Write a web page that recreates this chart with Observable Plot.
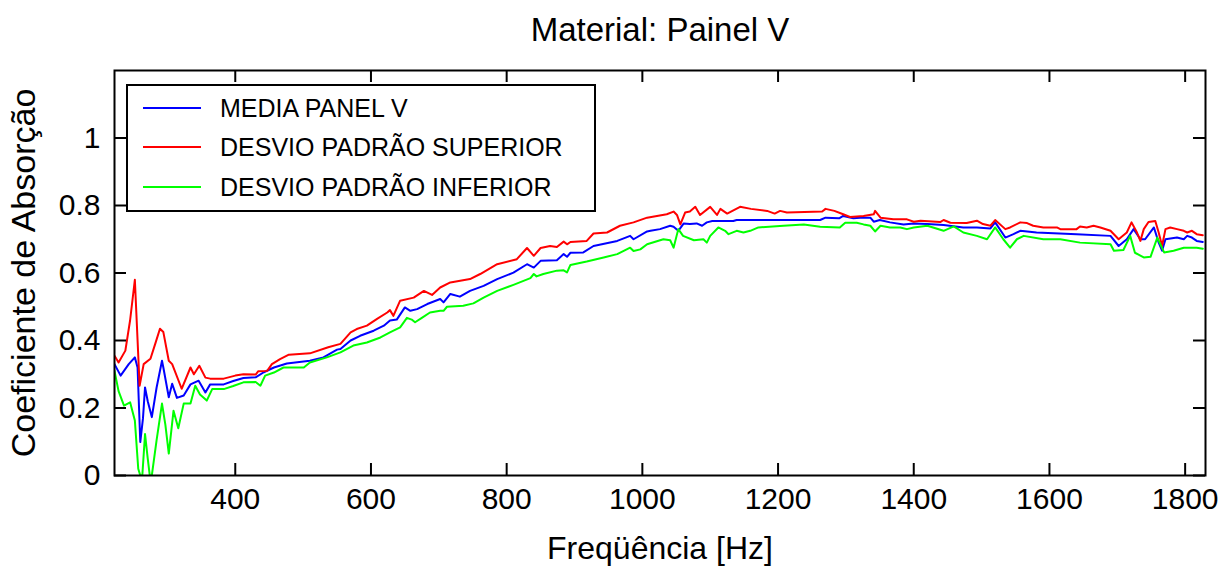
<!DOCTYPE html>
<html>
<head>
<meta charset="utf-8">
<script src="https://cdn.jsdelivr.net/npm/d3@7"></script>
<script src="https://cdn.jsdelivr.net/npm/@observablehq/plot@0.6"></script>
<style>
  html, body { margin: 0; padding: 0; background: #fff; }
  #chart { width: 1223px; height: 572px; }
</style>
</head>
<body>
<div id="chart"></div>
<script>
// ---- Data ----
const title = "Material: Painel V";
const xLabel = "Freqüência [Hz]";
const yLabel = "Coeficiente de Absorção";
const seriesNames = ["MEDIA PANEL V", "DESVIO PADRÃO SUPERIOR", "DESVIO PADRÃO INFERIOR"];
const seriesColors = ["#0000ff", "#ff0000", "#00ff00"];
const xTicks = [400, 600, 800, 1000, 1200, 1400, 1600, 1800];
const yTicks = [0, 0.2, 0.4, 0.6, 0.8, 1];

const freqMedia = [222,231,243,252,256,260,264,267,271,277,284,292,294,302,307,314,324,334,346,356,363,383,397,412,430,442,457,476,510,530,550,555,570,584,604,619,628,638,650,658,668,683,702,707,717,731,746,766,786,810,830,840,850,874,884,889,894,913,928,963,982,987,1007,1012,1026,1041,1046,1053,1061,1070,1080,1088,1095,1103,1134,1139,1262,1270,1290,1296,1311,1321,1336,1341,1350,1365,1385,1400,1420,1444,1473,1493,1513,1520,1535,1547,1557,1581,1640,1690,1702,1714,1724,1734,1741,1754,1761,1766,1771,1788,1798,1803,1810,1817,1826];
const valMedia = [0.33,0.296,0.33,0.35,0.32,0.099,0.17,0.261,0.22,0.173,0.26,0.34,0.32,0.232,0.272,0.23,0.237,0.27,0.281,0.246,0.27,0.27,0.28,0.289,0.291,0.306,0.32,0.332,0.34,0.35,0.373,0.375,0.40,0.414,0.429,0.444,0.459,0.462,0.498,0.488,0.493,0.508,0.523,0.513,0.538,0.53,0.547,0.562,0.582,0.601,0.626,0.616,0.636,0.638,0.656,0.648,0.66,0.661,0.68,0.695,0.71,0.70,0.723,0.725,0.73,0.74,0.737,0.725,0.747,0.745,0.747,0.74,0.75,0.754,0.754,0.757,0.757,0.764,0.762,0.769,0.762,0.764,0.764,0.752,0.757,0.75,0.744,0.747,0.745,0.742,0.735,0.735,0.732,0.75,0.705,0.715,0.725,0.72,0.715,0.71,0.68,0.70,0.73,0.70,0.70,0.735,0.69,0.666,0.70,0.705,0.70,0.71,0.705,0.695,0.692];

const freqSup = [222,228,238,245,252,259,265,275,282,289,294,302,307,321,334,339,347,356,363,383,400,412,430,434,447,454,466,479,510,537,555,570,579,594,609,624,628,633,643,663,678,690,702,717,746,761,786,815,830,840,850,864,874,884,889,894,918,928,948,967,987,1007,1036,1046,1051,1056,1063,1070,1078,1085,1100,1105,1110,1115,1125,1144,1160,1184,1195,1203,1213,1265,1270,1283,1296,1306,1326,1341,1343,1351,1370,1390,1400,1410,1439,1444,1454,1478,1493,1502,1513,1520,1535,1542,1557,1567,1576,1591,1611,1616,1640,1645,1655,1665,1675,1690,1702,1714,1721,1729,1734,1739,1746,1756,1761,1766,1771,1778,1788,1798,1803,1810,1817,1826];
const valSup = [0.355,0.335,0.37,0.46,0.58,0.266,0.33,0.346,0.39,0.435,0.425,0.34,0.33,0.257,0.32,0.30,0.325,0.29,0.287,0.287,0.296,0.30,0.299,0.309,0.31,0.33,0.345,0.358,0.362,0.38,0.39,0.424,0.434,0.444,0.464,0.483,0.49,0.473,0.518,0.527,0.547,0.535,0.557,0.572,0.582,0.597,0.626,0.641,0.674,0.651,0.674,0.68,0.677,0.693,0.685,0.692,0.695,0.717,0.72,0.74,0.75,0.764,0.774,0.782,0.772,0.744,0.779,0.782,0.796,0.772,0.796,0.784,0.772,0.79,0.776,0.796,0.79,0.784,0.776,0.784,0.779,0.782,0.79,0.784,0.774,0.766,0.769,0.774,0.784,0.764,0.759,0.759,0.752,0.755,0.751,0.757,0.749,0.748,0.755,0.745,0.74,0.757,0.73,0.735,0.75,0.748,0.74,0.735,0.735,0.73,0.73,0.738,0.735,0.74,0.735,0.725,0.70,0.72,0.75,0.72,0.695,0.73,0.751,0.754,0.72,0.68,0.73,0.735,0.73,0.725,0.72,0.725,0.715,0.712];

const freqInf = [222,228,236,245,252,257,260,263,267,271,274,277,284,292,297,302,309,316,324,334,341,348,358,366,383,397,412,430,437,444,457,471,501,510,535,555,574,594,614,628,643,653,660,665,675,687,702,707,712,736,751,766,786,810,835,840,844,854,874,884,889,894,918,943,963,982,987,997,1007,1031,1041,1046,1053,1060,1076,1090,1095,1100,1112,1122,1127,1139,1149,1159,1171,1208,1238,1262,1291,1299,1316,1326,1336,1343,1351,1365,1380,1390,1400,1420,1444,1459,1473,1493,1508,1520,1532,1542,1552,1562,1591,1616,1645,1690,1695,1709,1719,1726,1739,1749,1759,1769,1783,1798,1817,1826];
const valInf = [0.31,0.25,0.207,0.217,0.163,0.02,0,0,0.123,0.05,0,0,0.104,0.213,0.15,0.065,0.192,0.14,0.213,0.213,0.266,0.24,0.222,0.256,0.256,0.265,0.276,0.277,0.266,0.296,0.305,0.32,0.32,0.335,0.35,0.365,0.385,0.394,0.409,0.424,0.439,0.467,0.462,0.454,0.467,0.483,0.488,0.488,0.50,0.503,0.51,0.527,0.547,0.565,0.585,0.597,0.59,0.597,0.607,0.608,0.602,0.624,0.634,0.646,0.656,0.675,0.665,0.67,0.685,0.70,0.697,0.675,0.73,0.71,0.697,0.70,0.69,0.71,0.735,0.725,0.715,0.725,0.72,0.725,0.735,0.74,0.744,0.737,0.735,0.749,0.749,0.744,0.74,0.723,0.74,0.735,0.735,0.73,0.735,0.74,0.725,0.738,0.72,0.71,0.70,0.735,0.70,0.675,0.70,0.71,0.70,0.70,0.69,0.685,0.666,0.668,0.71,0.66,0.646,0.648,0.705,0.661,0.666,0.675,0.675,0.672];

// ---- Build tidy table ----
const rows = [];
freqMedia.forEach((f, i) => rows.push({f, v: valMedia[i], s: seriesNames[0]}));
freqSup.forEach((f, i) => rows.push({f, v: valSup[i], s: seriesNames[1]}));
freqInf.forEach((f, i) => rows.push({f, v: valInf[i], s: seriesNames[2]}));

const W = 1223, H = 572;
const mL = 114, mR = 18, mT = 70, mB = 97;
const frameW = W - mL - mR, frameH = H - mT - mB;
const tickLen = 12;
const font = "'Liberation Sans', Arial, sans-serif";

const chart = Plot.plot({
  width: W,
  height: H,
  marginLeft: mL, marginRight: mR, marginTop: mT, marginBottom: mB,
  style: {fontFamily: font, fontSize: "30px", color: "#000", background: "#fff"},
  x: {domain: [222, 1830]},
  y: {domain: [0, 1.2]},
  color: {domain: seriesNames, range: seriesColors},
  marks: [
    Plot.line(rows, {x: "f", y: "v", z: "s", stroke: "s", strokeWidth: 2, clip: true}),
    Plot.frame({stroke: "#000", strokeWidth: 2}),
    // inward ticks on all four sides
    Plot.tickX(xTicks, {x: d => d, insetTop: frameH - tickLen, stroke: "#000", strokeWidth: 2}),
    Plot.tickX(xTicks, {x: d => d, insetBottom: frameH - tickLen, stroke: "#000", strokeWidth: 2}),
    Plot.tickY(yTicks, {y: d => d, insetRight: frameW - tickLen, stroke: "#000", strokeWidth: 2}),
    Plot.tickY(yTicks, {y: d => d, insetLeft: frameW - tickLen, stroke: "#000", strokeWidth: 2}),
    Plot.axisX({ticks: xTicks, tickSize: 0, tickPadding: 12, label: null, fontSize: 30, tickFormat: d => String(d)}),
    Plot.axisY({ticks: yTicks, tickSize: 0, tickPadding: 14, label: null, fontSize: 30, tickFormat: d => String(d)}),
    Plot.text([title], {frameAnchor: "top", dy: -40, lineAnchor: "middle", textAnchor: "middle", fontSize: 33, fill: "#000"}),
    Plot.text([xLabel], {frameAnchor: "bottom", dy: 73, lineAnchor: "middle", textAnchor: "middle", fontSize: 32, fill: "#000"}),
    Plot.text([yLabel], {frameAnchor: "left", dx: -90, rotate: -90, lineAnchor: "middle", textAnchor: "middle", fontSize: 34, fill: "#000"})
  ]
});

// ---- Legend box (inside the plot, top-left) ----
const svg = d3.select(chart);
const lg = svg.append("g").attr("font-family", font).attr("font-size", 25).attr("text-anchor", "start");
lg.append("rect").attr("x", 127).attr("y", 85).attr("width", 468).attr("height", 126)
  .attr("fill", "#fff").attr("stroke", "#000").attr("stroke-width", 2);
const rowY = [108, 147, 187];
seriesNames.forEach((name, i) => {
  lg.append("line").attr("x1", 143).attr("x2", 201).attr("y1", rowY[i]).attr("y2", rowY[i])
    .attr("stroke", seriesColors[i]).attr("stroke-width", 2);
  lg.append("text").attr("x", 220).attr("y", rowY[i]).attr("dy", "0.35em")
    .attr("text-anchor", "start").attr("fill", "#000").text(name);
});

document.getElementById("chart").appendChild(chart);
</script>
</body>
</html>
